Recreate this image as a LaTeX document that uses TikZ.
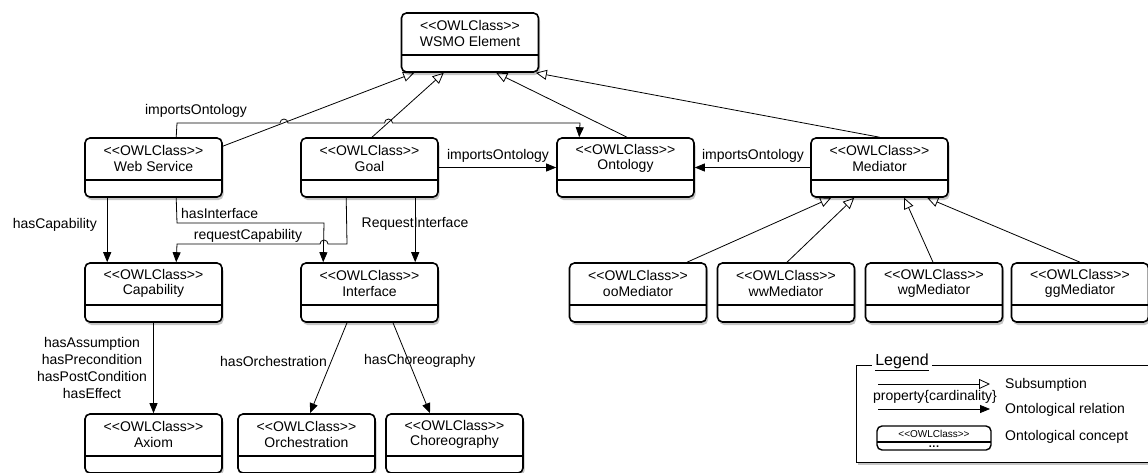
\documentclass[tikz,border=0pt]{standalone}
\usepackage{fontspec}
\setmainfont{Liberation Sans}
\usetikzlibrary{arrows.meta,shadows,calc}
\newcommand\owtag{<\kern0pt<OWLClass>\kern0pt>}
\tikzset{
  shad/.style={drop shadow={shadow xshift=1.5pt, shadow yshift=-3pt, opacity=0.45}},
  cls/.style={draw, line width=1.6pt, rounded corners=5pt, fill=white,
    minimum width=137pt, minimum height=59pt, inner sep=0pt, shad,
    path picture={\draw[line width=1.4pt] ([yshift=17pt]path picture bounding box.south west) -- ([yshift=17pt]path picture bounding box.south east);}},
  clstext/.style={font=\fontsize{14}{15.2}\selectfont, align=center, inner sep=0pt},
  lbl/.style={font=\fontsize{14}{15}\selectfont, inner sep=0pt},
  sub/.style={-{Triangle[open, length=11pt, width=10pt]}, line width=0.8pt},
  rel/.style={-{Triangle[length=10pt, width=8pt]}, line width=0.8pt},
}
\newcommand\owl[4]{%
  \node[cls] (#1) at (#2,#3) {};
  \node[clstext] (#1t) at ([yshift=9pt]#1.center) {\owtag\\#4};}
\begin{document}
\begin{tikzpicture}[x=1pt,y=-1pt]
\useasboundingbox (0,0) rectangle (1148,472);
\clip (0,0) rectangle (1148,472);
\fill[white] (0,0) rectangle (1148,472);

% boxes
\owl{wsmo}{470}{42.5}{WSMO Element}
\owl{ws}{153.5}{167.5}{Web Service}
\owl{goal}{369.5}{167.5}{Goal}
\owl{onto}{625.5}{167.5}{Ontology}
\owl{med}{879.5}{167.5}{Mediator}
\owl{cap}{153.5}{292.5}{Capability}
\owl{int}{369.5}{292.5}{Interface}
\owl{oo}{638}{292.5}{ooMediator}
\owl{ww}{786}{292.5}{wwMediator}
\owl{wg}{934}{292.5}{wgMediator}
\owl{gg}{1080}{292.5}{ggMediator}
\owl{ax}{153.5}{443.5}{Axiom}
\owl{orch}{306.5}{443.5}{Orchestration}
\owl{cho}{454.5}{443.5}{Choreography}

% subsumption to WSMO Element
\draw[sub] ($(ws.north east)+(0,9)$) -- ($(wsmo.south west)+(13.5,0)$);
\draw[sub] ($(goal.north)+(2.5,0)$) -- ($(wsmo.south west)+(43,0)$);
\draw[sub] ($(onto.north)+(1.5,0)$) -- ($(wsmo.south west)+(95.5,0)$);
\draw[sub] (med.north) -- ($(wsmo.south east)+(-3.5,0)$);

% subsumption to Mediator
\draw[sub] ($(oo.north)+(49,0)$) -- ($(med.south west)+(21,0)$);
\draw[sub] ($(ww.north)+(1,0)$) -- ($(med.south west)+(44,0)$);
\draw[sub] ($(wg.north)+(-1,0)$) -- ($(med.south west)+(94,0)$);
\draw[sub] (gg.north) -- ($(med.south west)+(117,0)$);

% importsOntology from Web Service (with jumps)
\draw[rel] ($(ws.north west)+(92,0)$) -- (177,123) -- (280,123)
  arc[start angle=180, end angle=360, radius=4] -- (384.5,123)
  arc[start angle=180, end angle=360, radius=4] -- (580,123)
  -- ($(onto.north west)+(23,0)$);
\node[lbl] (lio1) at (196,111) {importsOntology};

% importsOntology Goal / Mediator
\draw[rel] (goal.east) -- (onto.west);
\node[lbl] (lio2) at (498,156) {importsOntology};
\draw[rel] (med.west) -- (onto.east);
\node[lbl] (lio3) at (753,156) {importsOntology};

% hasCapability
\draw[rel] ($(ws.south west)+(23,0)$) -- ($(cap.north west)+(23,0)$);
\node[lbl, anchor=east] (lhc) at (97,225) {hasCapability};

% hasInterface
\draw[rel] ($(ws.south west)+(92,0)$) -- (177,223) -- (324,223) -- ($(int.north west)+(23,0)$);
\node[lbl, anchor=west] (lhi) at (181,213) {hasInterface};

% requestCapability (with jump)
\draw[rel] ($(goal.south west)+(46,0)$) -- (347,244) -- (328,244)
  arc[start angle=360, end angle=180, radius=4] -- (177,244) -- ($(cap.north west)+(92,0)$);
\node[lbl] (lrc) at (248,236) {requestCapability};

% RequestInterface
\draw[rel] ($(goal.south west)+(115,0)$) -- ($(int.north west)+(115,0)$);
\node[lbl] (lri) at (415,224) {RequestInterface};

% Capability -> Axiom
\draw[rel] (cap.south) -- (ax.north);
\node[lbl, align=center, font=\fontsize{14}{16.7}\selectfont] (lax) at (92,368)
  {hasAssumption\\hasPrecondition\\hasPostCondition\\hasEffect};

% Interface -> Orchestration / Choreography
\draw[rel] ($(int.south)+(-22.5,0)$) -- ($(orch.north)+(3.5,0)$);
\node[lbl, anchor=east] (lho) at (327,361) {hasOrchestration};
\draw[rel] ($(int.south)+(23.5,0)$) -- ($(cho.north)+(-24.5,0)$);
\node[lbl, anchor=west] (lhch) at (364,361) {hasChoreography};

% Legend
\node[draw, line width=0.8pt, fill=white, shad, minimum width=330pt, minimum height=97pt,
  anchor=north west, inner sep=0pt] (legend) at (856,365) {};
\node[fill=white, inner sep=3pt, font=\fontsize{16}{17}\selectfont] (legt) at (902,362) {\underline{Legend}};
\coordinate (sa) at (878,384);
\coordinate (sb) at (990,384);
\draw[sub] (sa) -- (sb);
\node[lbl, anchor=west] (lsub) at (1005,385) {Subsumption};
\node[lbl] (lprop) at (935,397) {property\{cardinality\}};
\coordinate (ra) at (878,409);
\coordinate (rb) at (990,409);
\draw[rel] (ra) -- (rb);
\node[lbl, anchor=west] (lrel) at (1005,410) {Ontological relation};
\node[draw, line width=1.4pt, rounded corners=5pt, minimum width=114pt, minimum height=24pt,
  inner sep=0pt,
  path picture={\draw[line width=1.2pt] ([yshift=8pt]path picture bounding box.south west) -- ([yshift=8pt]path picture bounding box.south east);}]
  (lgbox) at (934,438) {};
\node[inner sep=0pt, font=\fontsize{10}{11}\selectfont] (lgtag) at ([yshift=4pt]lgbox.center) {\owtag};
\node[inner sep=0pt, font=\fontsize{11}{11}\selectfont\bfseries] (lgdots) at ($(lgbox.south)+(0,-4.5)$) {.\kern0.5pt.\kern0.5pt.};
\node[lbl, anchor=west] (lcon) at (1005,437) {Ontological concept};
\end{tikzpicture}
\end{document}
